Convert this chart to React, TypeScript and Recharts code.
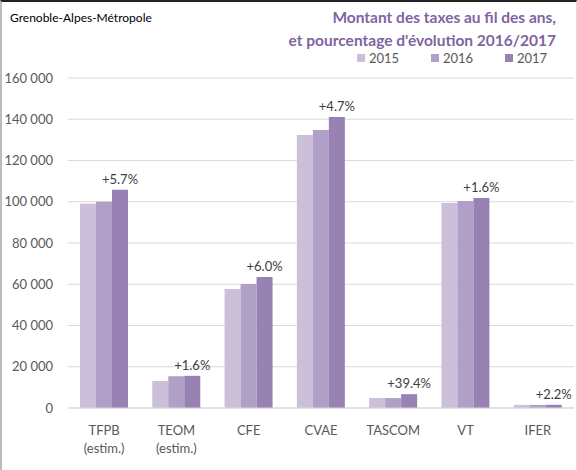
import { BarChart, Bar, XAxis, YAxis, CartesianGrid, LabelList } from "recharts";

const categories = ["TFPB\n(estim.)", "TEOM\n(estim.)", "CFE", "CVAE", "TASCOM", "VT", "IFER"];
const v2015 = [99000, 13100, 57700, 132400, 4800, 99400, 1500];
const v2016 = [100000, 15400, 60100, 134800, 4800, 100400, 1500];
const v2017 = [105800, 15600, 63500, 141100, 6700, 101800, 1550];
const evolution = ["+5.7%", "+1.6%", "+6.0%", "+4.7%", "+39.4%", "+1.6%", "+2.2%"];
const years = ["2015", "2016", "2017"];
const yTicks = [0, 20000, 40000, 60000, 80000, 100000, 120000, 140000, 160000];

const colors = ["#cbbfd9", "#b09fc6", "#9882b4"];
const font = "Lato, 'Open Sans', sans-serif";

const data = categories.map((c, i) => ({
  name: c,
  y2015: v2015[i],
  y2016: v2016[i],
  y2017: v2017[i],
  evo: evolution[i],
}));

const fmt = (v: number) => String(v).replace(/\B(?=(\d{3})+(?!\d))/g, " ");

function CatTick(props: any) {
  const { x, y, payload } = props;
  const lines = String(payload.value).split("\n");
  return (
    <text x={x} y={y} textAnchor="middle" fill="#595959" fontSize={13} fontFamily={font}>
      {lines.map((l, i) => (
        <tspan key={i} x={x} dy={i === 0 ? 19 : 18}>
          {l}
        </tspan>
      ))}
    </text>
  );
}

export default function App() {
  return (
    <div
      style={{
        position: "absolute",
        left: 0,
        top: 0,
        width: 577,
        height: 470,
        background: "#fff",
        boxSizing: "border-box",
        borderTop: "2px solid #222",
        borderLeft: "2px solid #bbb",
        borderRight: "1px solid #ddd",
      }}
    >
      <div style={{ position: "absolute", left: 8, top: 8, fontFamily: font, fontSize: 12, color: "#000" }}>
        Grenoble-Alpes-Métropole
      </div>
      <div
        style={{
          position: "absolute",
          right: 20,
          top: 4,
          textAlign: "right",
          fontFamily: font,
          fontWeight: 700,
          fontSize: 15.5,
          lineHeight: "23px",
          color: "#8064a2",
        }}
      >
        Montant des taxes au fil des ans,
        <br />
        et pourcentage d'évolution 2016/2017
      </div>
      <div
        style={{
          position: "absolute",
          left: 355,
          top: 48,
          display: "flex",
          fontFamily: font,
          fontSize: 13,
          color: "#595959",
        }}
      >
        {years.map((y, i) => (
          <div key={y} style={{ display: "flex", alignItems: "center", width: 74 }}>
            <span style={{ width: 8, height: 8, background: colors[i], marginRight: 4 }} />
            {y}
          </div>
        ))}
      </div>
      <BarChart
        width={574}
        height={468}
        data={data}
        margin={{ top: 76, right: 2, left: 6, bottom: 22 }}
        barGap={0}
        barCategoryGap={12}
      >
        <CartesianGrid vertical={false} stroke="#d9d9d9" />
        <XAxis
          dataKey="name"
          interval={0}
          tick={<CatTick />}
          tickLine={false}
          axisLine={{ stroke: "#d9d9d9" }}
          height={40}
        />
        <YAxis
          domain={[0, 160000]}
          ticks={yTicks}
          tickFormatter={fmt}
          width={60}
          tickSize={0}
          tickMargin={15}
          axisLine={false}
          tick={{ fill: "#595959", fontSize: 13, fontFamily: font }}
        />
        <Bar dataKey="y2015" name={years[0]} fill={colors[0]} isAnimationActive={false} />
        <Bar dataKey="y2016" name={years[1]} fill={colors[1]} isAnimationActive={false} />
        <Bar dataKey="y2017" name={years[2]} fill={colors[2]} isAnimationActive={false}>
          <LabelList dataKey="evo" position="top" offset={6} fill="#404040" fontSize={13} fontFamily={font} />
        </Bar>
      </BarChart>
    </div>
  );
}
